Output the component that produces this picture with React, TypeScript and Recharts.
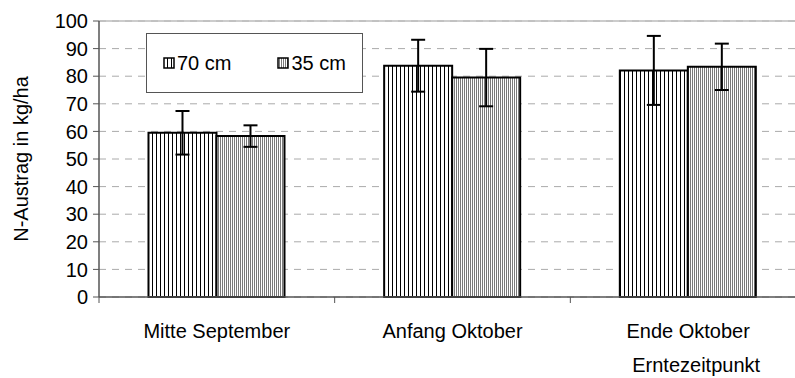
import {
  BarChart,
  Bar,
  XAxis,
  YAxis,
  CartesianGrid,
  ReferenceLine,
  ErrorBar,
  Legend,
} from "recharts"

const categories = ["Mitte September", "Anfang Oktober", "Ende Oktober"]
const values70 = [59.5, 83.8, 82.1]
const values35 = [58.3, 79.5, 83.4]
const err70 = [7.9, 9.4, 12.5]
const err35 = [3.9, 10.4, 8.4]
const yTicks = [0, 10, 20, 30, 40, 50, 60, 70, 80, 90, 100]

const FONT = "'Liberation Sans', Arial, sans-serif"
const AXIS = "#555"

const chartData = categories.map((name, i) => ({
  name,
  v70: values70[i],
  v35: values35[i],
  e70: err70[i],
  e35: err35[i],
}))

// label in the middle of the band, tick mark on the band's left edge
function CategoryTick(props: any) {
  const { x, y, payload } = props
  const half = payload.offset || 0
  return (
    <g>
      <line x1={x - half} x2={x - half} y1={y} y2={y + 6} stroke={AXIS} strokeWidth={1} />
      <text
        x={x}
        y={y + 34}
        textAnchor="middle"
        dominantBaseline="central"
        fontSize={20}
        fontFamily={FONT}
        fill="#000"
      >
        {payload.value}
      </text>
    </g>
  )
}

function Swatch({ fill }: { fill: string }) {
  return (
    <svg width={12} height={12} style={{ display: "block" }}>
      <rect x={1} y={1} width={10} height={10} fill={fill} stroke="#000" strokeWidth={1.5} />
    </svg>
  )
}

function LegendBox() {
  return (
    <div
      style={{
        boxSizing: "border-box",
        width: 217,
        height: 60,
        border: "1px solid #555",
        background: "#fff",
        display: "flex",
        alignItems: "center",
        paddingLeft: 16,
        fontFamily: FONT,
        fontSize: 20,
        color: "#000",
      }}
    >
      <Swatch fill="url(#p70)" />
      <span style={{ marginLeft: 2, marginRight: 46 }}>70 cm</span>
      <Swatch fill="url(#p35)" />
      <span style={{ marginLeft: 2 }}>35 cm</span>
    </div>
  )
}

export default function App() {
  return (
    <div
      style={{
        position: "absolute",
        left: 0,
        top: 0,
        width: 795,
        height: 378,
        overflow: "hidden",
        background: "#fff",
      }}
    >
      <BarChart
        width={820}
        height={378}
        data={chartData}
        margin={{ top: 21, right: 14, bottom: 0, left: 0 }}
        barCategoryGap="21%"
        barGap={0}
      >
        <defs>
          <pattern id="p70" width={4} height={4} patternUnits="userSpaceOnUse">
            <rect width={4} height={4} fill="#fff" />
            <rect x={0} width={1} height={4} fill="#000" />
          </pattern>
          <pattern id="p35" width={2} height={2} patternUnits="userSpaceOnUse">
            <rect width={2} height={2} fill="#fff" />
            <rect x={0} width={1} height={2} fill="#7a7a7a" />
          </pattern>
        </defs>
        <CartesianGrid vertical={false} stroke="#aaa" strokeDasharray="7 6" />
        <ReferenceLine y={100} stroke="#bbb" strokeWidth={1.5} />
        <XAxis
          dataKey="name"
          interval={0}
          height={81}
          tickSize={0}
          tickMargin={0}
          tickLine={false}
          axisLine={{ stroke: AXIS, strokeWidth: 1.5 }}
          tick={<CategoryTick />}
          label={{
            content: ({ viewBox }: any) => (
              <text
                x={viewBox.x + (viewBox.width * 2.5) / 3 + 8}
                y={viewBox.y + 68}
                textAnchor="middle"
                dominantBaseline="central"
                fontSize={20}
                fontFamily={FONT}
                fill="#000"
              >
                Erntezeitpunkt
              </text>
            ),
          }}
        />
        <YAxis
          width={99}
          domain={[0, 100]}
          ticks={yTicks}
          interval={0}
          tickSize={6}
          tickMargin={5}
          axisLine={{ stroke: AXIS, strokeWidth: 1.5 }}
          tickLine={{ stroke: AXIS }}
          tick={{ fontSize: 20, fontFamily: FONT, fill: "#000" }}
          label={{
            content: ({ viewBox }: any) => {
              const cx = viewBox.x + 21
              const cy = viewBox.y + viewBox.height / 2
              return (
                <text
                  x={cx}
                  y={cy}
                  transform={`rotate(-90, ${cx}, ${cy})`}
                  textAnchor="middle"
                  dominantBaseline="central"
                  fontSize={20}
                  fontFamily={FONT}
                  fill="#000"
                >
                  N-Austrag in kg/ha
                </text>
              )
            },
          }}
        />
        <Legend
          content={<LegendBox />}
          layout="horizontal"
          verticalAlign="middle"
          align="center"
          wrapperStyle={{ top: 33, left: 146, width: 217, height: 60 }}
        />
        <Bar
          dataKey="v70"
          fill="url(#p70)"
          stroke="#000"
          strokeWidth={2}
          isAnimationActive={false}
        >
          <ErrorBar dataKey="e70" width={7} stroke="#000" strokeWidth={2} isAnimationActive={false} />
        </Bar>
        <Bar
          dataKey="v35"
          fill="url(#p35)"
          stroke="#000"
          strokeWidth={2}
          isAnimationActive={false}
        >
          <ErrorBar dataKey="e35" width={7} stroke="#000" strokeWidth={2} isAnimationActive={false} />
        </Bar>
      </BarChart>
    </div>
  )
}
